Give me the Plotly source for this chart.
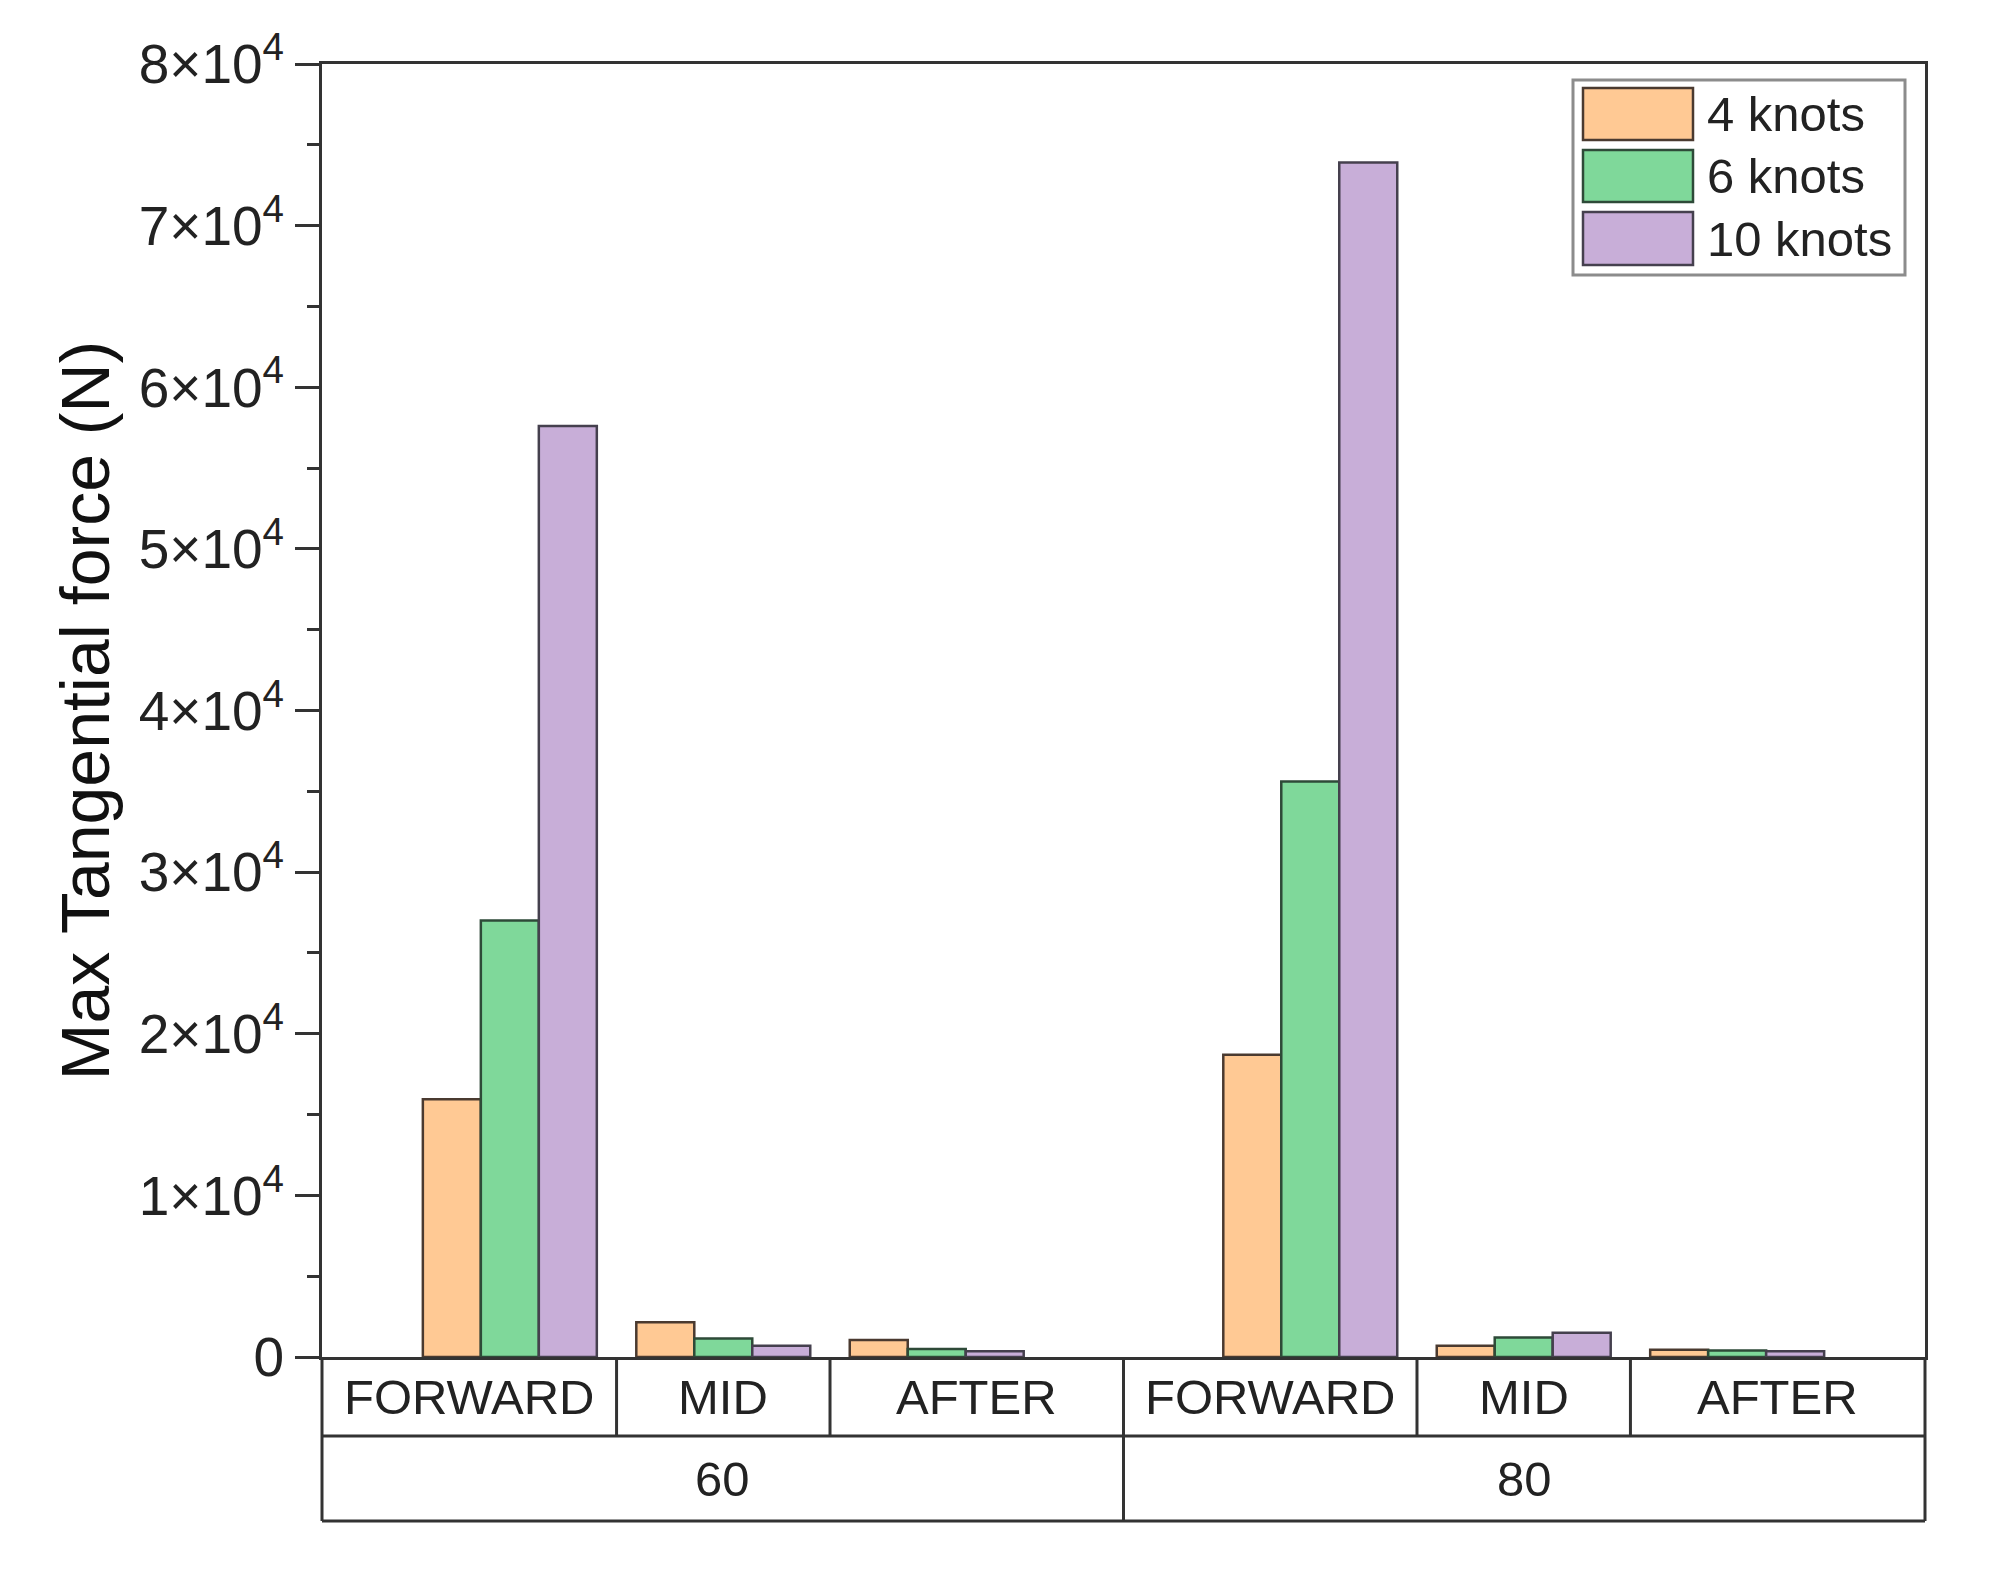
import plotly.graph_objects as go

# ---------------- data ----------------
groups = ["60", "80"]
sections = ["FORWARD", "MID", "AFTER"]
series_names = ["4 knots", "6 knots", "10 knots"]
knots4 = [15950, 2150, 1050, 18700, 700, 450]
knots6 = [27000, 1150, 500, 35600, 1200, 400]
knots10 = [57600, 700, 350, 73900, 1500, 350]
ytick_vals = [0, 10000, 20000, 30000, 40000, 50000, 60000, 70000, 80000]
ytick_text = ["0"] + ["%d×10<sup>4</sup>" % k for k in range(1, 9)]

# ---------------- style ----------------
colors = ["#FFC994", "#7FD89A", "#C8AED8"]
edge_colors = ["#4a3a30", "#2e4a38", "#45404e"]
LINE = "#333333"
FONT = "Liberation Sans, Arial, sans-serif"
W, H = 1990, 1571
OFF = 8  # page body margin of the html page
# plot area in page pixels (as seen in the reference)
PX_L, PX_R, PX_T, PX_B = 322, 1925, 64, 1357
ML, MR, MT, MB = PX_L - OFF, W - PX_R + OFF, PX_T - OFF, H - PX_B + OFF
PW, PH = PX_R - PX_L, PX_B - PX_T

GROUP_GAP = 0.75
n_sec = len(sections)
xpos = [g * (n_sec + GROUP_GAP) + i for g in range(len(groups)) for i in range(n_sec)]
xmin, xmax = xpos[0] - 0.88, xpos[-1] + 0.88


def xp(x):  # data x -> paper
    return (x - xmin) / (xmax - xmin)


def ppx(px):  # page pixel x -> paper
    return (px - PX_L) / PW


def ppy(py):  # page pixel y -> paper
    return (PX_B - py) / PH


fig = go.Figure()
for name, vals, c, e in zip(series_names, [knots4, knots6, knots10], colors, edge_colors):
    fig.add_trace(go.Bar(
        x=xpos, y=vals, name=name, showlegend=False,
        marker=dict(color=c, line=dict(color=e, width=2.5)),
    ))

shapes = []
annotations = []

# ---- category table below the axis ----
y0 = 0
y1 = ppy(1436)
y2 = ppy(1521)
line = dict(color=LINE, width=3)
shapes.append(dict(type="line", xref="paper", yref="paper", x0=0, x1=0, y0=y0, y1=y2, line=line))
shapes.append(dict(type="line", xref="paper", yref="paper", x0=1, x1=1, y0=y0, y1=y2, line=line))
shapes.append(dict(type="line", xref="paper", yref="paper", x0=0, x1=1, y0=y1, y1=y1, line=line))
shapes.append(dict(type="line", xref="paper", yref="paper", x0=0, x1=1, y0=y2, y1=y2, line=line))
for k in range(len(xpos) - 1):
    xm = xp((xpos[k] + xpos[k + 1]) / 2)
    same_group = (k + 1) % n_sec != 0
    shapes.append(dict(type="line", xref="paper", yref="paper", x0=xm, x1=xm,
                       y0=y0, y1=(y1 if same_group else y2), line=line))

bounds = [xmin] + [(xpos[k] + xpos[k + 1]) / 2 for k in range(len(xpos) - 1)] + [xmax]
for k in range(len(xpos)):
    annotations.append(dict(
        text=sections[k % n_sec], xref="paper", yref="paper",
        x=(xp(bounds[k]) + xp(bounds[k + 1])) / 2, y=(y0 + y1) / 2,
        showarrow=False, xanchor="center", yanchor="middle",
        font=dict(family=FONT, size=49, color="#222222")))
for g, gname in enumerate(groups):
    left = xp(bounds[g * n_sec])
    right = xp(bounds[(g + 1) * n_sec])
    annotations.append(dict(
        text=gname, xref="paper", yref="paper",
        x=(left + right) / 2, y=(y1 + y2) / 2,
        showarrow=False, xanchor="center", yanchor="middle",
        font=dict(family=FONT, size=49, color="#222222")))

# ---- custom legend ----
shapes.append(dict(type="rect", xref="paper", yref="paper",
                   x0=ppx(1573), x1=ppx(1905), y0=ppy(80), y1=ppy(275),
                   line=dict(color="#8c8c8c", width=3), fillcolor="white"))
rows = [(88, 140), (150, 202), (212, 265)]
for (ta, tb), name, c, e in zip(rows, series_names, colors, edge_colors):
    shapes.append(dict(type="rect", xref="paper", yref="paper",
                       x0=ppx(1583), x1=ppx(1693), y0=ppy(ta), y1=ppy(tb),
                       line=dict(color=e, width=2.5), fillcolor=c))
    annotations.append(dict(
        text=name, xref="paper", yref="paper", x=ppx(1705), y=ppy((ta + tb) / 2),
        showarrow=False, xanchor="left", yanchor="middle",
        font=dict(family=FONT, size=49, color="#222222")))

fig.update_layout(
    width=W, height=H,
    margin=dict(l=ML, r=MR, t=MT, b=MB, pad=0),
    paper_bgcolor="white", plot_bgcolor="white",
    barmode="group", bargap=0.185, bargroupgap=0,
    shapes=shapes, annotations=annotations,
    font=dict(family=FONT, color="#222222"),
)
fig.update_xaxes(
    range=[xmin, xmax], showgrid=False, zeroline=False,
    showticklabels=False, ticks="",
    showline=True, linecolor=LINE, linewidth=3, mirror=True,
)
fig.update_yaxes(
    range=[0, 80000], showgrid=False, zeroline=False,
    tickvals=ytick_vals, ticktext=ytick_text,
    ticks="outside", ticklen=24, tickwidth=3, tickcolor=LINE,
    minor=dict(ticks="outside", dtick=5000, ticklen=12, tickwidth=3, tickcolor=LINE),
    tickfont=dict(family=FONT, size=55, color="#222222"),
    ticklabelstandoff=0,
    showline=True, linecolor=LINE, linewidth=3, mirror=True,
    title=dict(text="Max Tangential force (N)", standoff=7,
               font=dict(family=FONT, size=68, color="#111111")),
)

fig.write_html("out.html")
